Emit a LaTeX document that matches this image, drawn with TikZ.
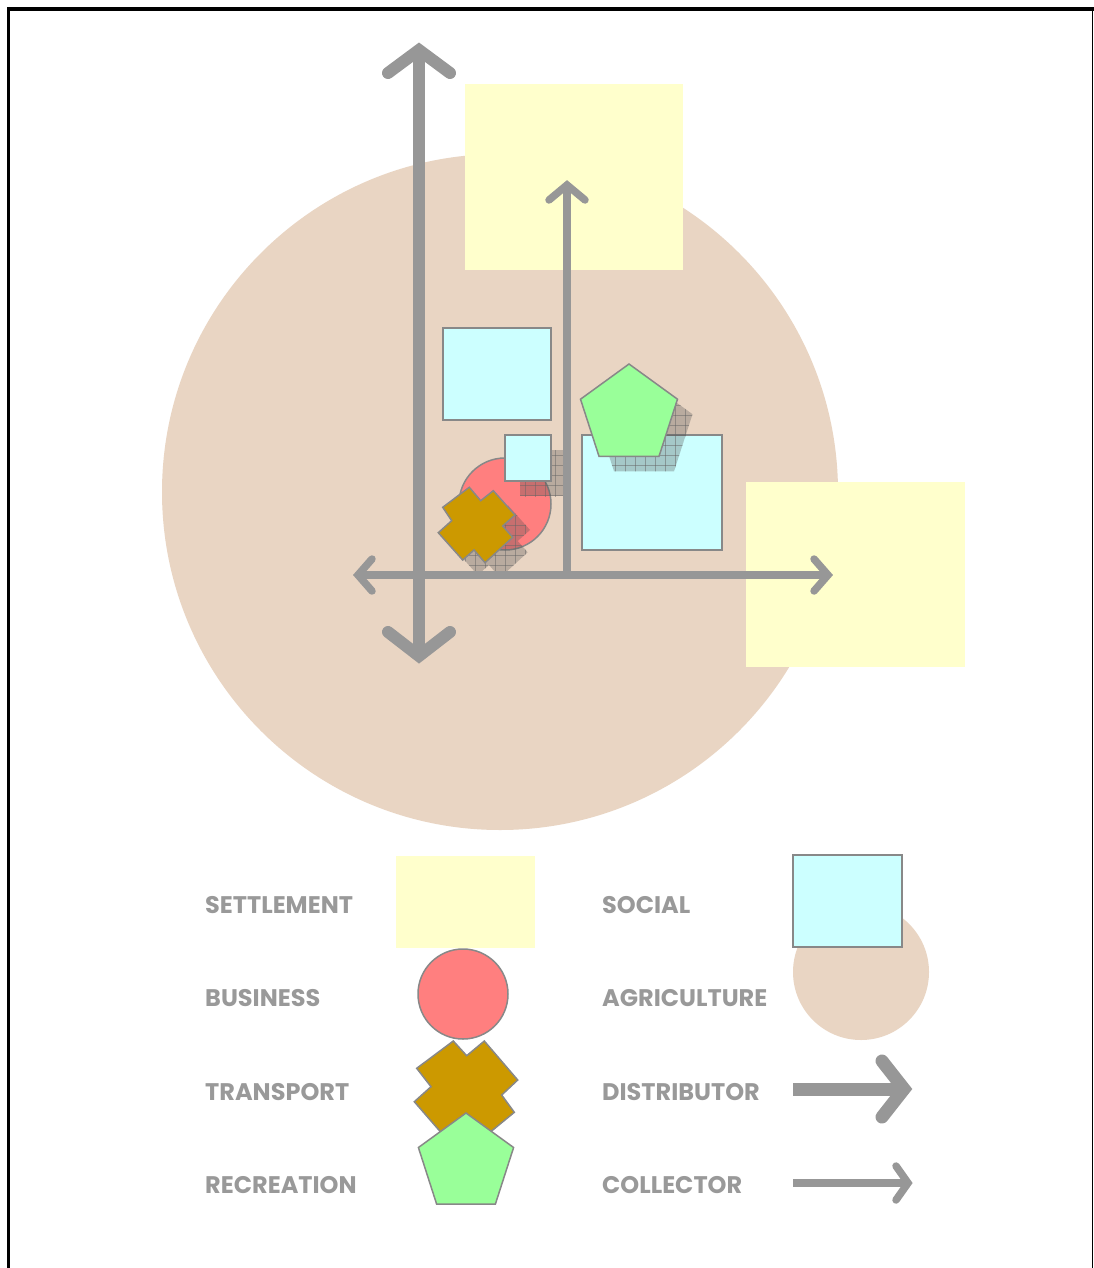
\documentclass[tikz,border=0pt]{standalone}
\usepackage{fontspec}
\newfontfamily\labfont{Poppins}
\definecolor{agri}{HTML}{E9D5C3}
\definecolor{settle}{HTML}{FFFFCC}
\definecolor{social}{HTML}{CCFFFF}
\definecolor{business}{HTML}{FF7F7F}
\definecolor{transport}{HTML}{CC9900}
\definecolor{recre}{HTML}{99FF99}
\definecolor{axisgray}{HTML}{979797}
\definecolor{edgegray}{HTML}{888888}
\definecolor{labgray}{HTML}{999999}
\newcommand\ShadowOf[1]{%
  \begin{scope}[shift={(15,15)}]
    \fill[shfill] #1;
    \begin{scope}
      \clip #1;
      \foreach \gx in {380,390,...,760} {\draw[shgrid] (\gx,340) -- (\gx,620);}
      \foreach \gy in {340,350,...,620} {\draw[shgrid] (380,\gy) -- (760,\gy);}
    \end{scope}
  \end{scope}}
\begin{document}
\begin{tikzpicture}[x=1pt,y=-1pt,
  shapeedge/.style={draw=edgegray, line width=1.5pt, line join=miter},
  bigshaft/.style={draw=axisgray, line width=12pt, line cap=butt},
  bighead/.style={draw=axisgray, line width=12pt, line cap=round, line join=miter},
  thinshaft/.style={draw=axisgray, line width=7.5pt, line cap=butt},
  thinhead/.style={draw=axisgray, line width=7.5pt, line cap=round, line join=miter},
  lab/.style={anchor=west, inner sep=0pt, text=labgray, font=\labfont\bfseries\fontsize{24}{24}\selectfont},
  shfill/.style={fill=black!70, fill opacity=0.30},
  shgrid/.style={draw=black!60, line width=0.7pt, draw opacity=0.5}]
\useasboundingbox (0,0) rectangle (1094,1268);
\fill[white] (0,0) rectangle (1094,1268);

% ---------- map ----------
\fill[agri] (500,492) circle[radius=338pt];
\fill[settle] (465,84) rectangle (683,270);
\fill[settle] (746,482) rectangle (965,667);

\filldraw[fill=social, shapeedge] (443,328) rectangle (551,420);
\filldraw[fill=social, shapeedge] (582,435) rectangle (722,550);

\filldraw[fill=business, shapeedge] (505,504) circle[radius=46pt];

\ShadowOf{(505,435) rectangle (551,481)}
\filldraw[fill=social, shapeedge] (505,435) rectangle (551,481);

\ShadowOf{(442.7,507.3) -- (469.3,487.3) -- (480.7,500.7) -- (493.3,490.7) -- (515,515) -- (502.7,526) -- (512.7,537.3) -- (485,562.7) -- (474,550) -- (462.7,560) -- (438.3,532.7) -- (451.7,520.7) -- cycle}
\filldraw[fill=transport, shapeedge] (442.7,507.3) -- (469.3,487.3) -- (480.7,500.7) -- (493.3,490.7) -- (515,515) -- (502.7,526) -- (512.7,537.3) -- (485,562.7) -- (474,550) -- (462.7,560) -- (438.3,532.7) -- (451.7,520.7) -- cycle;

\ShadowOf{(629,364) -- (677.5,399.2) -- (659,456.3) -- (599,456.3) -- (580.5,399.2) -- cycle}
\filldraw[fill=recre, shapeedge] (629,364) -- (677.5,399.2) -- (659,456.3) -- (599,456.3) -- (580.5,399.2) -- cycle;

% axes
\coordinate (vtop) at (419,50);
\coordinate (vbot) at (419,656);
\coordinate (hleft) at (358,575);
\coordinate (hright) at (828,575);
\coordinate (ctop) at (567,185);
\coordinate (cbase) at (567,575);
\draw[bigshaft] (vtop) -- (vbot);
\draw[bighead] (388,73) -- (vtop) -- (450,73);
\draw[bighead] (388,632) -- (vbot) -- (450,632);
\draw[thinshaft] (hleft) -- (hright);
\draw[thinhead] (372,559) -- (hleft) -- (372,591);
\draw[thinhead] (814,559) -- (hright) -- (814,591);
\draw[thinshaft] (cbase) -- (ctop);
\draw[thinhead] (549,200) -- (ctop) -- (585,200);

% ---------- legend ----------
\fill[settle] (396,856) rectangle (535,948);
\filldraw[fill=business, shapeedge] (463,994) circle[radius=45pt];
\filldraw[fill=transport, shapeedge] (416.7,1068.3) -- (453.3,1041) -- (466.7,1055.7) -- (484.3,1041) -- (517.7,1080) -- (501.7,1095) -- (514.3,1112.3) -- (479.4,1141) -- (466,1126) -- (448.4,1141) -- (414.3,1101.7) -- (431,1086.7) -- cycle;
\filldraw[fill=recre, shapeedge] (466,1113) -- (513.6,1147.5) -- (495.4,1204) -- (436.6,1204) -- (418.4,1147.5) -- cycle;

\fill[agri] (861,972) circle[radius=68pt];
\filldraw[fill=social, shapeedge] (793,855) rectangle (902,947);

\coordinate (dstart) at (793,1089);
\coordinate (dtip) at (904,1089);
\draw[bigshaft, line width=13pt] (dstart) -- (dtip);
\draw[bighead, line width=13pt] (882,1061) -- (dtip) -- (882,1117);
\coordinate (cstart) at (793,1183);
\coordinate (ctip) at (908,1183);
\draw[thinshaft] (cstart) -- (ctip);
\draw[thinhead] (896,1166) -- (ctip) -- (896,1200);

\node[lab] (lsettle) at (205,905) {SETTLEMENT};
\node[lab] (lbus) at (205,998) {BUSINESS};
\node[lab] (ltrans) at (205,1092) {TRANSPORT};
\node[lab] (lrec) at (205,1185) {RECREATION};
\node[lab] (lsoc) at (602,905) {SOCIAL};
\node[lab] (lagri) at (602,998) {AGRICULTURE};
\node[lab] (ldist) at (602,1092) {DISTRIBUTOR};
\node[lab] (lcoll) at (602,1185) {COLLECTOR};

% ---------- frame ----------
\draw[black, line width=4pt] (7,9) -- (1094,9);
\draw[black, line width=3pt] (8.5,7) -- (8.5,1268);
\draw[black, line width=1.5pt] (1092.5,9) -- (1092.5,1268);
\end{tikzpicture}
\end{document}
